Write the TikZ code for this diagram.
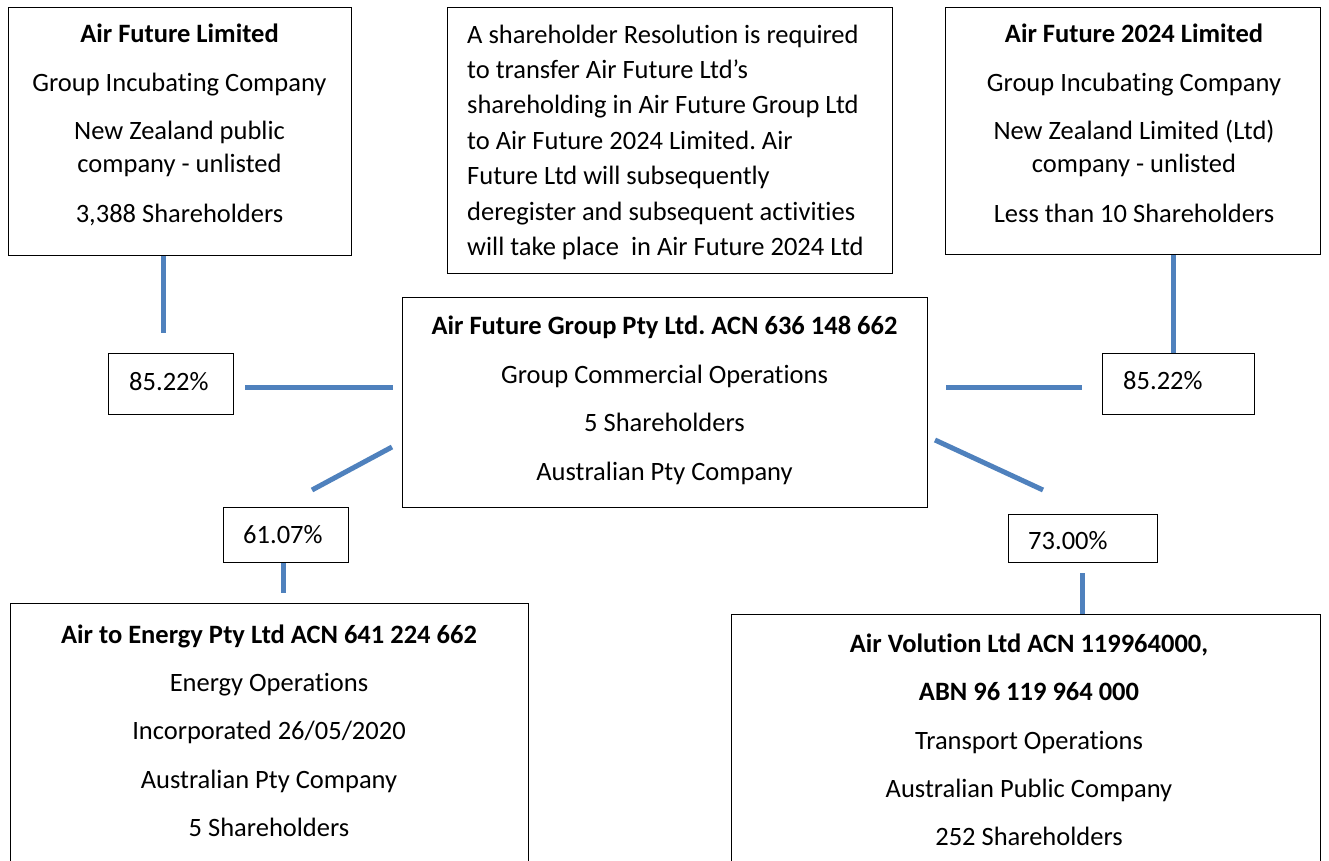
\documentclass[tikz,border=0pt]{standalone}
\usepackage{fontspec}
\setmainfont{Carlito}[Ligatures={NoCommon}]
\frenchspacing
\definecolor{linkblue}{HTML}{4F81BD}
\begin{document}
\begin{tikzpicture}[x=1pt,y=-1pt,
 box/.style={draw=black,line width=1.1pt,inner sep=0pt,fill=white,anchor=north west},
 txt/.style={anchor=base,inner sep=0pt,font=\fontsize{26.5}{32}\selectfont},
 btxt/.style={txt,font=\fontsize{26.5}{32}\selectfont\bfseries},
 ltxt/.style={txt,anchor=base west},
 link/.style={draw=linkblue,line width=5pt}]
\useasboundingbox (0,0) rectangle (1329,861);

% boxes
\node[box,minimum width=343pt,minimum height=248pt] (afl) at (8,7) {};
\node[box,minimum width=445pt,minimum height=266pt] (note) at (447,7) {};
\node[box,minimum width=375pt,minimum height=247pt] (af24) at (945,7) {};
\node[box,minimum width=525pt,minimum height=210pt] (afg) at (402,297) {};
\node[box,minimum width=125pt,minimum height=61pt] (p1) at (108,353) {};
\node[box,minimum width=152pt,minimum height=61pt] (p2) at (1102,353) {};
\node[box,minimum width=125pt,minimum height=55pt] (p3) at (223,507) {};
\node[box,minimum width=149pt,minimum height=48pt] (p4) at (1008,514) {};
\node[box,minimum width=518pt,minimum height=290pt] (ate) at (10,603) {};
\node[box,minimum width=589pt,minimum height=290pt] (avl) at (731,614) {};

% texts: Air Future Limited
\node[btxt] (afl1) at (179.5,43) {Air Future Limited};
\node[txt] (afl2) at (179.5,92) {Group Incubating Company};
\node[txt] (afl3) at (179.5,140) {New Zealand public};
\node[txt] (afl4) at (179.5,173) {company - unlisted};
\node[txt] (afl5) at (179.5,222) {3,388 Shareholders};

% note
\node[ltxt] (n1) at (467,43.5) {A shareholder Resolution is required};
\node[ltxt] (n2) at (467,79) {to transfer Air Future Ltd’s};
\node[ltxt] (n3) at (467,114) {shareholding in Air Future Group Ltd};
\node[ltxt] (n4) at (467,149.5) {to Air Future 2024 Limited. Air};
\node[ltxt] (n5) at (467,185) {Future Ltd will subsequently};
\node[ltxt] (n6) at (467,220) {deregister and subsequent activities};
\node[ltxt] (n7) at (467,255) {will take place\ \ in Air Future 2024 Ltd};

% Air Future 2024 Limited
\node[btxt] (a241) at (1134,43) {Air Future 2024 Limited};
\node[txt] (a242) at (1134,92) {Group Incubating Company};
\node[txt] (a243) at (1134,140) {New Zealand Limited (Ltd)};
\node[txt] (a244) at (1134,173) {company - unlisted};
\node[txt] (a245) at (1134,222) {Less than 10 Shareholders};

% Air Future Group
\node[btxt] (g1) at (664.5,334) {Air Future Group Pty Ltd. ACN 636 148 662};
\node[txt] (g2) at (664.5,383) {Group Commercial Operations};
\node[txt] (g3) at (664.5,431) {5 Shareholders};
\node[txt] (g4) at (664.5,480) {Australian Pty Company};

% percentages
\node[ltxt] (pt1) at (129,390) {85.22\%};
\node[ltxt] (pt2) at (1123,389) {85.22\%};
\node[ltxt] (pt3) at (243,543) {61.07\%};
\node[ltxt] (pt4) at (1028,549) {73.00\%};

% Air to Energy
\node[btxt] (e1) at (269,643) {Air to Energy Pty Ltd ACN 641 224 662};
\node[txt] (e2) at (269,691) {Energy Operations};
\node[txt] (e3) at (269,739) {Incorporated 26/05/2020};
\node[txt] (e4) at (269,788) {Australian Pty Company};
\node[txt] (e5) at (269,836) {5 Shareholders};

% Air Volution
\node[btxt] (v1) at (1029,652) {Air Volution Ltd ACN 119964000,};
\node[btxt] (v2) at (1029,700) {ABN 96 119 964 000};
\node[txt] (v3) at (1029,749) {Transport Operations};
\node[txt] (v4) at (1029,797) {Australian Public Company};
\node[txt] (v5) at (1029,845) {252 Shareholders};

% connector free ends
\coordinate (lv) at (163,333);
\coordinate (lh1) at (245,387);
\coordinate (lh2) at (393,387);
\coordinate (rv) at (1173,300);
\coordinate (rh1) at (946,387);
\coordinate (rh2) at (1082,387);
\coordinate (ld1) at (392,447);
\coordinate (ld2) at (312,490);
\coordinate (p3e) at (283,593);
\coordinate (rd1) at (935,440);
\coordinate (rd2) at (1043,490);
\coordinate (p4e) at (1082,573);

\draw[link] (afl.south -| lv) -- (lv);
\draw[link] (lh1) -- (lh2);
\draw[link] (af24.south -| rv) -- (p2.north -| rv);
\draw[link] (rh1) -- (rh2);
\draw[link] (ld1) -- (ld2);
\draw[link] (p3.south -| p3e) -- (p3e);
\draw[link] (rd1) -- (rd2);
\draw[link] (p4e) -- (avl.north -| p4e);
\end{tikzpicture}
\end{document}
